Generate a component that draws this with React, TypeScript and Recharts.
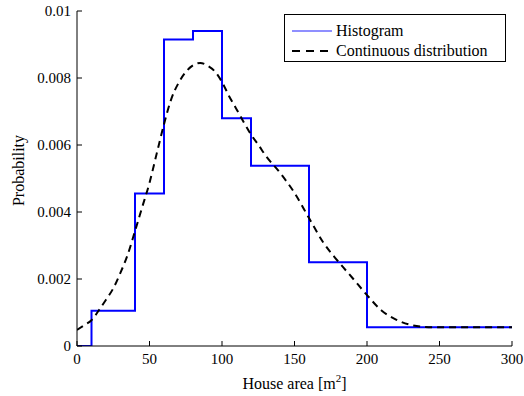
import { ComposedChart, Line, XAxis, YAxis, Legend } from 'recharts';

// histogram bin edges (m²) and the probability of each bin, last edge repeats the last bin
const binEdges = [0, 10, 40, 60, 80, 100, 120, 160, 200, 300];
const binProb = [0, 0.00105, 0.00455, 0.00915, 0.0094, 0.0068, 0.00538, 0.0025, 0.00056, 0.00056];

// fitted density, sampled along the area axis
const curveArea = [
  0, 5, 10, 15, 20, 25, 30, 35, 40, 45, 50, 55, 60, 65, 70, 75, 80, 85, 90, 95, 100, 105, 110,
  115, 120, 125, 130, 140, 150, 160, 170, 180, 190, 200, 210, 220, 230, 240, 250, 260, 270, 280,
  290, 300,
];
const curveProb = [
  0.00048, 0.00062, 0.00077, 0.00106, 0.00138, 0.00172, 0.00219, 0.00273, 0.00343, 0.00415,
  0.00487, 0.00575, 0.00662, 0.00737, 0.00785, 0.00818, 0.00838, 0.00845, 0.00837, 0.0082,
  0.00788, 0.00745, 0.00707, 0.00668, 0.00631, 0.00601, 0.00569, 0.00517, 0.00457, 0.00382,
  0.00308, 0.00253, 0.00203, 0.00152, 0.00106, 0.00079, 0.00063, 0.00057, 0.00056, 0.00056,
  0.00056, 0.00056, 0.00056, 0.00056,
];

const seriesNames = ['Histogram', 'Continuous distribution'];
const xTicks = [0, 50, 100, 150, 200, 250, 300];
const yTicks = [0, 0.002, 0.004, 0.006, 0.008, 0.01];

const histData = binEdges.map((area, i) => ({ area, prob: binProb[i] }));
const curveData = curveArea.map((area, i) => ({ area, prob: curveProb[i] }));

const FONT = 'Liberation Serif, DejaVu Serif, serif';
const tickStyle = { fontFamily: FONT, fontSize: 15, fill: '#000' };

function XLabel(props: any) {
  const vb = props.viewBox || {};
  const cx = vb.x + vb.width / 2;
  return (
    <text x={cx} y={389} textAnchor="middle" fontFamily={FONT} fontSize={16} fill="#000">
      House area [m
      <tspan dy={-7} fontSize={11}>
        2
      </tspan>
      <tspan dy={7}>]</tspan>
    </text>
  );
}

function YLabel(props: any) {
  const vb = props.viewBox || {};
  const cy = vb.y + vb.height / 2 - 8;
  return (
    <text
      x={24}
      y={cy}
      transform={`rotate(-90, 24, ${cy})`}
      textAnchor="middle"
      fontFamily={FONT}
      fontSize={16}
      fill="#000"
    >
      Probability
    </text>
  );
}

function LegendBox(props: any) {
  const items = [...(props.payload || [])].sort(
    (a: any, b: any) => seriesNames.indexOf(a.value) - seriesNames.indexOf(b.value),
  );
  return (
    <div
      style={{
        border: '1px solid #000',
        background: '#fff',
        width: 220,
        height: 46,
        boxSizing: 'content-box',
        fontFamily: FONT,
        fontSize: 16,
        color: '#000',
      }}
    >
      {items.map((it: any, i: number) => {
        const dashed = it.payload && it.payload.strokeDasharray;
        return (
          <div key={i} style={{ display: 'flex', alignItems: 'center', height: 20, marginTop: i === 0 ? 6 : 0 }}>
            <svg width={47} height={20} style={{ marginLeft: 4 }}>
              <line
                x1={3}
                x2={43}
                y1={10}
                y2={10}
                stroke={dashed ? '#000' : '#6a6aff'}
                strokeWidth={dashed ? 2 : 1.5}
                strokeDasharray={dashed ? '8 6' : undefined}
              />
            </svg>
            <span style={{ lineHeight: '20px', whiteSpace: 'nowrap' }}>{it.value}</span>
          </div>
        );
      })}
    </div>
  );
}

export default function App() {
  return (
    <div style={{ position: 'absolute', left: 0, top: 0, width: 524, height: 396, background: '#fff' }}>
      <ComposedChart width={524} height={396} margin={{ top: 11, right: 12, bottom: 0, left: 0 }}>
        <XAxis
          dataKey="area"
          type="number"
          domain={[0, 300]}
          ticks={xTicks}
          allowDataOverflow
          height={50}
          tickSize={-5}
          tickMargin={12}
          tick={tickStyle}
          axisLine={{ stroke: '#000' }}
          tickLine={{ stroke: '#000' }}
          label={<XLabel />}
        />
        <XAxis
          xAxisId="top"
          orientation="top"
          type="number"
          domain={[0, 300]}
          ticks={xTicks}
          height={0}
          tickSize={-5}
          tick={false}
          axisLine={{ stroke: '#000' }}
          tickLine={{ stroke: '#000' }}
        />
        <YAxis
          type="number"
          domain={[0, 0.01]}
          ticks={yTicks}
          allowDataOverflow
          width={77}
          tickSize={-5}
          tickMargin={11}
          tick={tickStyle}
          axisLine={{ stroke: '#000' }}
          tickLine={{ stroke: '#000' }}
          label={<YLabel />}
        />
        <YAxis
          yAxisId="right"
          orientation="right"
          type="number"
          domain={[0, 0.01]}
          ticks={yTicks}
          width={0}
          tickSize={-5}
          tick={false}
          axisLine={{ stroke: '#000' }}
          tickLine={{ stroke: '#000' }}
        />
        <Legend
          layout="horizontal"
          align="center"
          verticalAlign="middle"
          content={<LegendBox />}
          wrapperStyle={{ top: 14, left: 284, width: 222, height: 48 }}
        />
        <Line
          name="Histogram"
          data={histData}
          dataKey="prob"
          type="stepAfter"
          stroke="#0000ff"
          strokeWidth={2}
          dot={false}
          activeDot={false}
          isAnimationActive={false}
        />
        <Line
          name="Continuous distribution"
          data={curveData}
          dataKey="prob"
          type="monotone"
          stroke="#000"
          strokeWidth={2}
          strokeDasharray="7 5"
          dot={false}
          activeDot={false}
          isAnimationActive={false}
        />
      </ComposedChart>
    </div>
  );
}
